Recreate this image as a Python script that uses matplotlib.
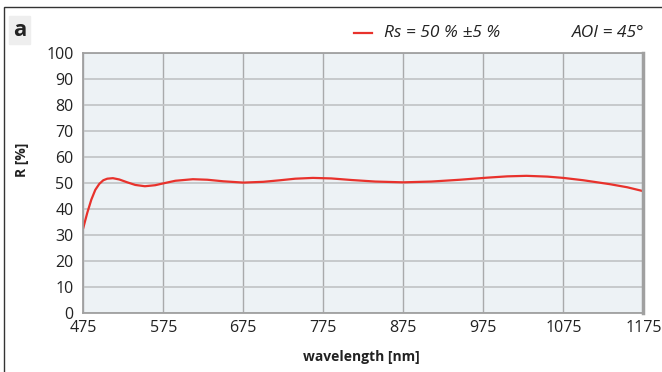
import matplotlib.pyplot as plt
from matplotlib.patches import Rectangle

wavelength = [475, 480, 485, 490, 495, 500, 505, 512, 520, 530, 540, 552, 565, 575,
              590, 612, 630, 650, 675, 700, 721, 740, 762, 785, 810, 840, 875, 910,
              946, 980, 1005, 1029, 1055, 1075, 1100, 1133, 1155, 1175]
reflectance = [32.7, 38.5, 43.5, 47.3, 49.6, 51.0, 51.6, 51.8, 51.3, 50.2, 49.2, 48.7,
               49.1, 49.8, 50.8, 51.4, 51.2, 50.6, 50.1, 50.4, 51.0, 51.6, 51.9, 51.7,
               51.1, 50.5, 50.2, 50.5, 51.2, 52.0, 52.5, 52.7, 52.4, 51.9, 51.0, 49.5,
               48.3, 46.8]
x_ticks = [475, 575, 675, 775, 875, 975, 1075, 1175]
y_ticks = list(range(0, 101, 10))

plt.rcParams['font.family'] = ['Open Sans', 'DejaVu Sans']

fig = plt.figure(figsize=(6.62, 3.72), dpi=100)
ax = fig.add_axes([0.1258, 0.1586, 0.9718 - 0.1258, 0.8583 - 0.1586])
ax.set_facecolor('#edf2f5')

ax.plot(wavelength, reflectance, color='#e8322c', lw=1.6)

ax.set_xlim(475, 1175)
ax.set_ylim(0, 100)
ax.set_xticks(x_ticks)
ax.set_yticks(y_ticks)
ax.tick_params(length=0, labelsize=11.5, colors='#222222')
ax.tick_params(axis='y', pad=7)
ax.tick_params(axis='x', pad=5)
ax.grid(axis='y', color='#c4c6c8', lw=1.3)
ax.grid(axis='x', color='#a9aaab', lw=1.0)
ax.set_axisbelow(True)
for side in ['left', 'bottom', 'top']:
    ax.spines[side].set_color('#a0a0a0')
    ax.spines[side].set_linewidth(1.3)
ax.spines['right'].set_color('#a0a0a0')
ax.spines['right'].set_linewidth(2.5)

fig.text(361 / 662, 1 - 357 / 372, 'wavelength [nm]', fontsize=10, fontweight='bold',
         ha='center', va='center', color='#222222')
fig.text(22 / 662, 1 - 160 / 372, 'R [%]', fontsize=10, fontweight='bold',
         rotation=90, ha='center', va='center', color='#222222')

# legend line and texts
fig.add_artist(plt.Line2D([354 / 662, 372 / 662], [1 - 33 / 372, 1 - 33 / 372],
                          color='#e8322c', lw=1.6))
fig.text(384 / 662, 1 - 33 / 372, 'Rs = 50 % ±5 %', style='italic', fontsize=12.5,
         va='center', ha='left', color='#222222')
fig.text(645 / 662, 1 - 33 / 372, 'AOI = 45°', style='italic', fontsize=12.5,
         va='center', ha='right', color='#222222')

# panel label
fig.add_artist(Rectangle((9 / 662, 1 - 44 / 372), 21 / 662, 28 / 372,
                         transform=fig.transFigure, color='#eeeeee', zorder=0))
fig.text(19.5 / 662, 1 - 31 / 372, 'a', fontsize=16, fontweight='bold',
         ha='center', va='center', color='#222222')

# outer frame
fig.add_artist(Rectangle((4 / 662, -0.1), 1.2, 1 - 7 / 372 + 0.1,
                         transform=fig.transFigure, fill=False,
                         edgecolor='#333333', lw=1.0))

fig.savefig('out.png', dpi=100)
